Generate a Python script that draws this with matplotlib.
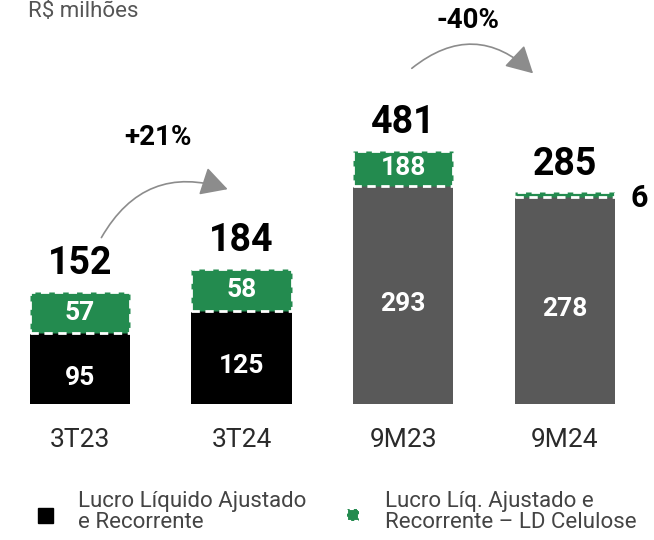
import matplotlib.pyplot as plt
from matplotlib.patches import FancyArrowPatch, Rectangle

plt.rcParams['font.family'] = ['Roboto', 'DejaVu Sans']

periods = ["3T23", "3T24", "9M23", "9M24"]
lucro = [95, 125, 293, 278]
celulose = [57, 58, 188, 6]
totais = [152, 184, 481, 285]
# green segment heights as drawn (the original does not draw them to scale)
celulose_drawn = [55, 56, 47, 6]
variacoes = ["+21%", "-40%"]

base_colors = ["#000000", "#000000", "#595959", "#595959"]
green = "#238b4f"

fig = plt.figure(figsize=(6.54, 5.4), dpi=100)
ax = fig.add_axes([0, 1 - 404 / 540, 1, 404 / 540])
ax.set_xlim(-0.495, 3.552)
ax.set_ylim(0, 542)
ax.axis("off")

x = list(range(len(periods)))
w = 0.62
ax.bar(x, lucro, width=w, color=base_colors)
ax.bar(x, celulose_drawn, width=w, bottom=lucro, color=green,
       edgecolor="white", linestyle=(0, (3, 2)), linewidth=2)

for i in x:
    ax.text(i, lucro[i] / 2 - 12, str(lucro[i]), ha="center", va="center",
            color="white", fontsize=19, fontweight="bold")
    top = lucro[i] + celulose_drawn[i]
    if celulose[i] > 20:
        ax.text(i, lucro[i] + celulose_drawn[i] / 2, str(celulose[i]),
                ha="center", va="center", color="white", fontsize=19,
                fontweight="bold")
    else:
        ax.annotate(str(celulose[i]), (i + w / 2, top), xytext=(11, -4),
                    textcoords="offset points", ha="left", va="center",
                    fontsize=22, fontweight="bold")
    ax.annotate(str(totais[i]), (i, top), xytext=(0, 7),
                textcoords="offset points", ha="center", va="bottom",
                fontsize=27, fontweight="bold")
    ax.annotate(periods[i], (i, 0), xytext=(0, -26), textcoords="offset points",
                ha="center", va="center", fontsize=19, color="#2a2a2a",
                annotation_clip=False)

# variation arrows
arrows = [((0.124, 220), (0.93, 287), -0.42, (0.48, 357)),
          ((2.04, 448), (2.816, 441), -0.45, (2.4, 514))]
for (p0, p1, rad, tpos), lab in zip(arrows, variacoes):
    ax.add_patch(FancyArrowPatch(p0, p1, connectionstyle=f"arc3,rad={rad}",
                                 arrowstyle="-|>,head_length=11,head_width=6",
                                 color="#8c8c8c", lw=1.2, mutation_scale=1.5))
    ax.text(tpos[0], tpos[1], lab, ha="center", va="center", fontsize=20,
            fontweight="bold")

fig.text(28 / 654, 1 - 17 / 540, "R$ milhões", ha="left", va="baseline",
         fontsize=16, color="#555555")

# legend
fig.patches.append(Rectangle((38 / 654, 1 - 523 / 540), 15 / 654, 15 / 540,
                             transform=fig.transFigure, color="black"))
fig.patches.append(Rectangle((347 / 654, 1 - 521 / 540), 12 / 654, 12 / 540,
                             transform=fig.transFigure, facecolor=green,
                             edgecolor="white", linestyle=(0, (2, 1.5)), lw=1.5))
fig.text(78 / 654, 1 - 512 / 540, "Lucro Líquido Ajustado\ne Recorrente",
         ha="left", va="center", fontsize=16, color="#444444", linespacing=1.0)
fig.text(385 / 654, 1 - 512 / 540, "Lucro Líq. Ajustado e\nRecorrente – LD Celulose",
         ha="left", va="center", fontsize=16, color="#444444", linespacing=1.0)

fig.savefig("out.png", dpi=100)
